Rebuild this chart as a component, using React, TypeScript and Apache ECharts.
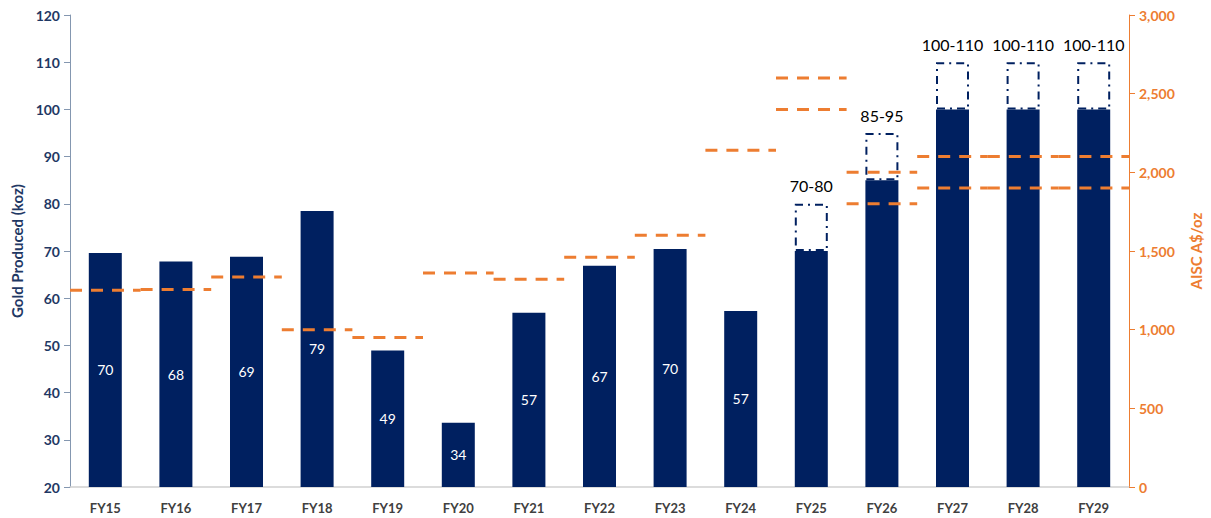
import React, { useEffect, useRef } from "react";
import * as echarts from "echarts";

const categories = ["FY15", "FY16", "FY17", "FY18", "FY19", "FY20", "FY21", "FY22", "FY23", "FY24", "FY25", "FY26", "FY27", "FY28", "FY29"];
const goldProduced = [69.6, 67.8, 68.8, 78.5, 48.9, 33.6, 56.9, 66.9, 70.4, 57.3, 70, 85, 100, 100, 100];
const barLabels = ["70", "68", "69", "79", "49", "34", "57", "67", "70", "57", "", "", "", "", ""];
const guidanceRange = [null, null, null, null, null, null, null, null, null, null, 10, 10, 10, 10, 10];
const guidanceLabels = ["", "", "", "", "", "", "", "", "", "", "70-80", "85-95", "100-110", "100-110", "100-110"];
const aiscLow = [1250, 1255, 1335, 1000, 950, 1360, 1320, 1460, 1600, 2140, 2400, 1800, 1900, 1900, 1900];
const aiscHigh = [null, null, null, null, null, null, null, null, null, null, 2600, 2000, 2100, 2100, 2100];
const leftTicks = { min: 20, max: 120, interval: 10 };
const rightTicks = { min: 0, max: 3000, interval: 500 };

const NAVY = "#002060";
const ORANGE = "#ED7D31";
const FONT = "Lato, 'Liberation Sans', sans-serif";

export default function App() {
  const ref = useRef<HTMLDivElement>(null);
  useEffect(() => {
    if (!ref.current) return;
    const chart = echarts.init(ref.current, null, { renderer: "svg" });
    const aiscData: any[] = [];
    aiscLow.forEach((v, i) => { if (v != null) aiscData.push([i, v]); });
    aiscHigh.forEach((v, i) => { if (v != null) aiscData.push([i, v]); });
    const renderDash = (params: any, api: any) => {
      const pt = api.coord([api.value(0), api.value(1)]);
      const w = api.size([1, 0])[0];
      return {
        type: "line",
        shape: { x1: pt[0] - w / 2, y1: pt[1], x2: pt[0] + w / 2, y2: pt[1] },
        style: { stroke: ORANGE, lineWidth: 3, lineDash: [12, 9] },
      };
    };
    chart.setOption({
      animation: false,
      textStyle: { fontFamily: FONT },
      grid: { left: 70, right: 70, top: 15, bottom: 31, containLabel: false },
      xAxis: {
        type: "category",
        data: categories,
        axisLine: { lineStyle: { color: "#d0d0d0", width: 1.5 } },
        axisTick: { show: false },
        axisLabel: { color: "#404040", fontWeight: "bold", fontSize: 13, margin: 14, fontFamily: FONT },
      },
      yAxis: [
        {
          type: "value",
          min: leftTicks.min,
          max: leftTicks.max,
          interval: leftTicks.interval,
          name: "Gold Produced (koz)",
          nameLocation: "middle",
          nameGap: 45,
          nameTextStyle: { color: "#1f3864", fontWeight: "bold", fontSize: 15, fontFamily: FONT },
          axisLine: { show: true, lineStyle: { color: "#8497b0", width: 1 } },
          axisTick: { show: true, length: 6, lineStyle: { color: "#8497b0" } },
          splitLine: { show: false },
          axisLabel: { color: "#1f3864", fontWeight: "bold", fontSize: 14, margin: 10, fontFamily: FONT },
        },
        {
          type: "value",
          min: rightTicks.min,
          max: rightTicks.max,
          interval: rightTicks.interval,
          position: "right",
          name: "AISC A$/oz",
          nameLocation: "middle",
          nameGap: 59,
          nameTextStyle: { color: ORANGE, fontWeight: "bold", fontSize: 15, fontFamily: FONT },
          axisLine: { show: true, lineStyle: { color: ORANGE, width: 1 } },
          axisTick: { show: true, length: 6, lineStyle: { color: ORANGE } },
          splitLine: { show: false },
          axisLabel: {
            color: ORANGE,
            fontWeight: "bold",
            fontSize: 14,
            margin: 10,
            fontFamily: FONT,
            formatter: (v: number) => v.toLocaleString("en-US"),
          },
        },
      ],
      series: [
        {
          type: "bar",
          stack: "gold",
          data: goldProduced,
          barWidth: 33,
          itemStyle: { color: NAVY },
          label: {
            show: true,
            position: "inside",
            color: "#ffffff",
            fontSize: 14,
            fontFamily: FONT,
            formatter: (p: any) => barLabels[p.dataIndex],
          },
          z: 2,
        },
        {
          type: "bar",
          stack: "gold",
          data: guidanceRange,
          barWidth: 33,
          itemStyle: { color: "#ffffff", borderColor: NAVY, borderWidth: 2, borderType: [8, 5, 2, 5] },
          label: {
            show: true,
            position: "top",
            distance: 10,
            color: "#000000",
            fontSize: 16,
            fontFamily: FONT,
            formatter: (p: any) => guidanceLabels[p.dataIndex],
          },
          z: 2,
        },
        {
          type: "custom",
          yAxisIndex: 1,
          data: aiscData,
          renderItem: renderDash,
          encode: { x: 0, y: 1 },
          z: 5,
        },
      ],
    });
    return () => chart.dispose();
  }, []);
  return <div ref={ref} style={{ position: "absolute", left: 0, top: 0, width: 1211, height: 518 }} />;
}
